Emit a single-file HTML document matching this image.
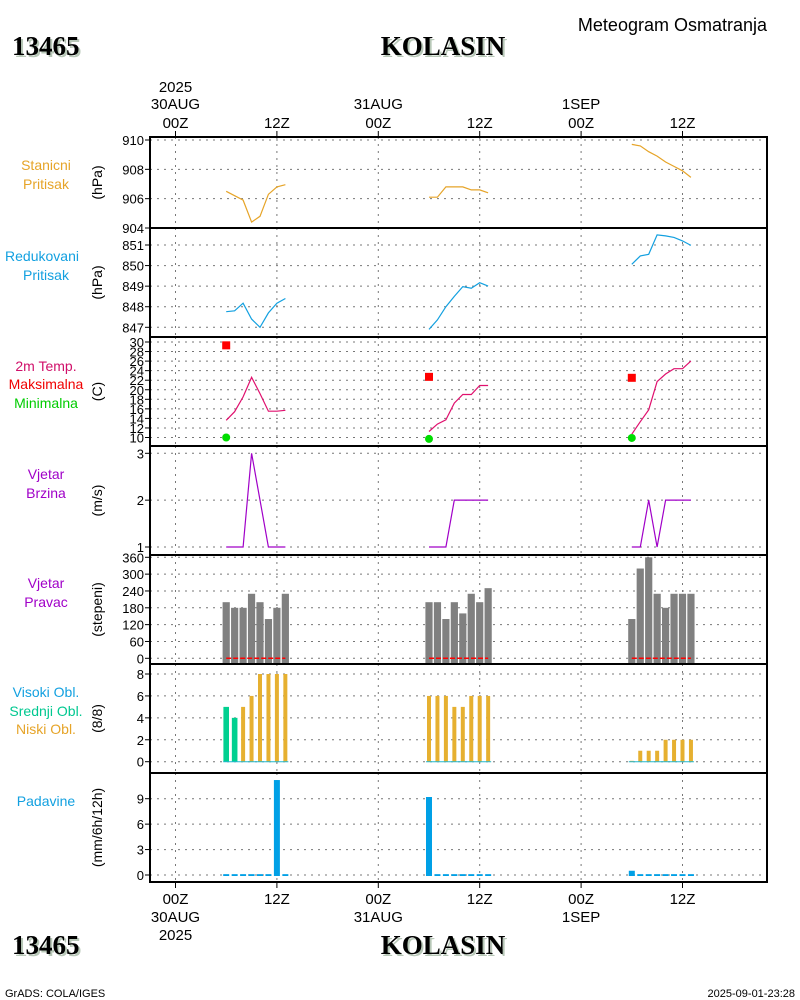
<!DOCTYPE html>
<html><head><meta charset="utf-8"><style>
html,body{margin:0;padding:0;background:#fff;}
svg{display:block;font-family:"Liberation Sans",sans-serif;}
</style></head><body>
<svg id="chart" width="800" height="1000" viewBox="0 0 800 1000" xmlns="http://www.w3.org/2000/svg">
<text x="12" y="55" font-family="Liberation Serif" font-weight="bold" font-size="27" fill="#b8c8b8" transform="translate(2,2)">13465</text>
<text x="12" y="55" font-family="Liberation Serif" font-weight="bold" font-size="27" fill="#000">13465</text>
<text x="443" y="55" text-anchor="middle" font-family="Liberation Serif" font-weight="bold" font-size="27" fill="#b8c8b8" transform="translate(2,2)">KOLASIN</text>
<text x="443" y="55" text-anchor="middle" font-family="Liberation Serif" font-weight="bold" font-size="27" fill="#000">KOLASIN</text>
<text x="767" y="31" text-anchor="end" font-size="18" fill="#000">Meteogram Osmatranja</text>
<text x="12" y="954" font-family="Liberation Serif" font-weight="bold" font-size="27" fill="#b8c8b8" transform="translate(2,2)">13465</text>
<text x="12" y="954" font-family="Liberation Serif" font-weight="bold" font-size="27" fill="#000">13465</text>
<text x="443" y="954" text-anchor="middle" font-family="Liberation Serif" font-weight="bold" font-size="27" fill="#b8c8b8" transform="translate(2,2)">KOLASIN</text>
<text x="443" y="954" text-anchor="middle" font-family="Liberation Serif" font-weight="bold" font-size="27" fill="#000">KOLASIN</text>
<text x="5" y="997" font-size="11" fill="#000">GrADS: COLA/IGES</text>
<text x="795" y="997" text-anchor="end" font-size="11" fill="#000">2025-09-01-23:28</text>
<g id="plot"></g>
</svg>
<script>
const hours = [6,7,8,9,10,11,12,13, 30,31,32,33,34,35,36,37, 54,55,56,57,58,59,60,61];
const stationP = [906.5,906.2,905.9,904.4,904.8,906.3,906.8,906.95, 906.1,906.1,906.8,906.8,906.8,906.6,906.6,906.4, 909.7,909.6,909.2,908.9,908.5,908.2,907.9,907.45];
const redP = [847.76,847.8,848.17,847.4,847.0,847.7,848.17,848.4, 846.9,847.36,848.0,848.5,848.98,848.9,849.17,849.0, 850.06,850.47,850.55,851.49,851.44,851.37,851.2,850.98];
const temp = [13.6,15.4,18.5,22.6,19.2,15.5,15.5,15.7, 11.25,12.8,13.7,17.2,19.0,19.0,20.9,20.9, 10.7,13.3,15.8,21.7,23.3,24.4,24.4,26.0];
const extHours = [6,30,54];
const maxT = [29.3,22.7,22.5];
const minT = [10,9.7,9.9];
const windSpeed = [1,1,1,3,2,1,1,1, 1,1,1,2,2,2,2,2, 1,1,2,1,2,2,2,2];
const windDir = [200,180,180,230,200,140,180,230, 200,200,140,200,160,230,200,250, 140,320,360,230,180,230,230,230];
const lowCloud = [0,0,5,6,8,8,8,8, 6,6,6,5,5,6,6,6, 0,1,1,1,2,2,2,2];
const midCloud = [5,4,0,0,0,0,0,0, 0,0,0,0,0,0,0,0, 0,0,0,0,0,0,0,0];
const highCloud = [0,0,0,0,0,0,0,0, 0,0,0,0,0,0,0,0, 0,0,0,0,0,0,0,0];
const precip = [0.1,0.1,0.1,0.1,0.1,0.1,11.2,0.1, 9.2,0.1,0.1,0.1,0.1,0.1,0.1,0.1, 0.5,0.1,0.1,0.1,0.1,0.1,0.1,0.1];
const timeTicks = [0,12,24,36,48,60];
const timeLabels = ["00Z","12Z","00Z","12Z","00Z","12Z"];
const dateLabels = ["30AUG","","31AUG","","1SEP",""];

const NS="http://www.w3.org/2000/svg";
const g=document.getElementById('plot');
const X0=150,X1=767;
function xh(h){return 175.5+8.45*h;}
function el(tag,attrs,parent){const e=document.createElementNS(NS,tag);for(const k in attrs)e.setAttribute(k,attrs[k]);(parent||g).appendChild(e);return e;}
function txt(x,y,s,attrs){const e=el('text',Object.assign({x:x,y:y},attrs||{}));e.textContent=s;return e;}
function scale(v0,y0,v1,y1){return v=>y0+(v-v0)*(y1-y0)/(v1-v0);}
function segments(){const s=[];let cur=[];hours.forEach((h,i)=>{if(cur.length&&h-hours[cur[cur.length-1]]>1){s.push(cur);cur=[];}cur.push(i);});s.push(cur);return s;}

const panels=[
 {top:137,bot:228,y:scale(910,140,904,228),ticks:[910,908,906,904],unit:"(hPa)",name:"station-pressure"},
 {top:228,bot:337,y:scale(851,245,847,327.3),ticks:[851,850,849,848,847],unit:"(hPa)",name:"reduced-pressure"},
 {top:337,bot:446,y:scale(30,342,10,437.5),ticks:[30,28,26,24,22,20,18,16,14,12,10],unit:"(C)",name:"temperature"},
 {top:446,bot:555,y:scale(3,453.3,1,547),ticks:[3,2,1],unit:"(m/s)",name:"wind-speed"},
 {top:555,bot:664,y:scale(360,557.3,0,658.3),ticks:[360,300,240,180,120,60,0],unit:"(stepeni)",name:"wind-direction"},
 {top:664,bot:773,y:scale(8,674,0,761.7),ticks:[8,6,4,2,0],unit:"(8/8)",name:"cloud-cover"},
 {top:773,bot:882,y:scale(9,798.7,0,875),ticks:[9,6,3,0],unit:"(mm/6h/12h)",name:"precipitation"}
];
panels.forEach((p,pi)=>{
 const pg=el('g',{});
 
 
 timeTicks.forEach(h=>{const l=el('line',{x1:xh(h),x2:xh(h),y1:p.top,y2:p.bot,stroke:'#777','stroke-width':1,'stroke-dasharray':'2,5'},pg);
  });
 p.ticks.forEach(t=>{const y=p.y(t);
  if(y>p.top+1&&y<p.bot-1){const l=el('line',{x1:X0,x2:X1,y1:y,y2:y,stroke:'#777','stroke-width':1,'stroke-dasharray':'2,5'},pg);
   }
  el('line',{x1:X0-5,x2:X0,y1:y,y2:y,stroke:'#000','stroke-width':1},pg);
  const tl=txt(X0-6,y+5,String(t),{'text-anchor':'end','font-size':13,fill:'#000'});
  pg.appendChild(tl);
  
 });
 const cy=(p.top+p.bot)/2;
 const u=txt(0,0,p.unit,{'text-anchor':'middle','font-size':14,fill:'#000',transform:'translate(102,'+cy+') rotate(-90)'});
 pg.appendChild(u);
 
});
const segs=segments();
function line(arr,yf,color,name,extra){segs.forEach(s=>{const pts=s.map(i=>xh(hours[i]).toFixed(1)+','+yf(arr[i]).toFixed(1)).join(' ');
 const pl=el('polyline',Object.assign({points:pts,fill:'none',stroke:color,'stroke-width':1.2},extra||{}));
 });}
line(stationP,panels[0].y,'#e6a428','station-pressure-line');
line(redP,panels[1].y,'#12a0e0','reduced-pressure-line');
line(temp,panels[2].y,'#e0106e','temperature-line');
extHours.forEach((h,i)=>{
 const r=el('rect',{x:xh(h)-4,y:panels[2].y(maxT[i])-4,width:8,height:8,fill:'#f00'});
 
 const c=el('circle',{cx:xh(h),cy:panels[2].y(minT[i]),r:4,fill:'#00dd00'});
 
});
line(windSpeed,panels[3].y,'#a000c8','wind-speed-line');
hours.forEach((h,i)=>{const y=panels[4].y,t=y(windDir[i]);
 const r=el('rect',{x:xh(h)-3.6,y:t,width:7.2,height:panels[4].bot-t,fill:'#808080'});
 });
segs.forEach(s=>{const y=panels[4].y(0);
 const l=el('line',{x1:xh(hours[s[0]]),x2:xh(hours[s[s.length-1]]),y1:y,y2:y,stroke:'#f00','stroke-width':1.5,'stroke-dasharray':'5,2'});
 });
hours.forEach((h,i)=>{const y=panels[5].y,b=y(0);
 if(midCloud[i]>0){const r=el('rect',{x:xh(h)-2.8,y:y(midCloud[i]),width:5.6,height:b-y(midCloud[i]),fill:'#00d090'});
  }
 const lv=Math.max(lowCloud[i],0.08);
 if(midCloud[i]==0){const r=el('rect',{x:xh(h)-2,y:y(lv),width:4,height:b-y(lv),fill:'#e6b030'});
  }
});
segs.forEach(s=>{const y=panels[5].y(0);
 const l=el('line',{x1:xh(hours[s[0]])-3,x2:xh(hours[s[s.length-1]])+3,y1:y,y2:y,stroke:'#20b8d0','stroke-width':1});
 });
hours.forEach((h,i)=>{const y=panels[6].y,b=y(0),t=y(precip[i]);
 const r=el('rect',{x:xh(h)-3,y:t,width:6,height:b-t+1,fill:'#00a0e6'});
 });
panels.forEach(p=>{const r=el('rect',{x:X0,y:p.top,width:X1-X0,height:p.bot-p.top,fill:'none',stroke:'#000','stroke-width':2});
 });
timeTicks.forEach((h,i)=>{const x=xh(h);
 el('line',{x1:x,x2:x,y1:131,y2:137,stroke:'#000'});
 el('line',{x1:x,x2:x,y1:882,y2:888,stroke:'#000'});
 const a=txt(x,128,timeLabels[i],{'text-anchor':'middle','font-size':15,fill:'#000'});
 
 const b=txt(x,904,timeLabels[i],{'text-anchor':'middle','font-size':15,fill:'#000'});
 
 if(dateLabels[i]){
  const c=txt(x,109,dateLabels[i],{'text-anchor':'middle','font-size':15,fill:'#000'});
  
  const d=txt(x,922,dateLabels[i],{'text-anchor':'middle','font-size':15,fill:'#000'});
  }
});
const y1=txt(xh(0),92,"2025",{'text-anchor':'middle','font-size':15,fill:'#000'});

const y2=txt(xh(0),940,"2025",{'text-anchor':'middle','font-size':15,fill:'#000'});

const labels=[["Stanicni",170,"#e6a428"],["Pritisak",189,"#e6a428"],["Redukovani",261,"#12a0e0"],["Pritisak",280,"#12a0e0"],
["2m Temp.",371,"#d0106a"],["Maksimalna",389,"#f00000"],["Minimalna",408,"#00cc00"],["Vjetar",479,"#a000c8"],["Brzina",498,"#a000c8"],
["Vjetar",588,"#a000c8"],["Pravac",607,"#a000c8"],["Visoki Obl.",697,"#12a0e0"],["Srednji Obl.",716,"#00c890"],["Niski Obl.",734,"#e6a428"],["Padavine",806,"#12a0e0"]];
labels.forEach(l=>{const t=txt(l[0]=="Redukovani"?42:46,l[1],l[0],{'text-anchor':'middle','font-size':14,fill:l[2]});
 });
</script>
</body></html>
